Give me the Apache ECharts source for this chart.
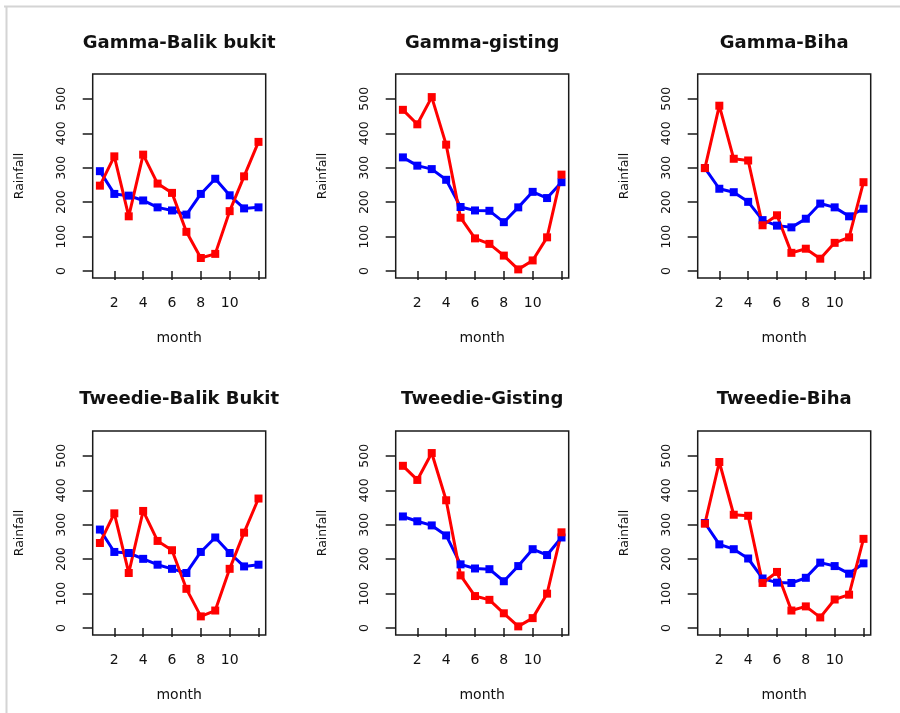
<!DOCTYPE html>
<html><head><meta charset="utf-8">
<script src="https://cdn.jsdelivr.net/npm/echarts@6/dist/echarts.min.js"></script>
<style>html,body{margin:0;padding:0;background:#fff}#c{width:900px;height:713px}</style>
</head><body><div id="c"></div>
<script>
const months = [1,2,3,4,5,6,7,8,9,10,11,12];
const panelTitles = ["Gamma-Balik bukit","Gamma-gisting","Gamma-Biha","Tweedie-Balik Bukit","Tweedie-Gisting","Tweedie-Biha"];
const xTickValues = [2,4,6,8,10,12];
const xLabelValues = [2,4,6,8,10];
const yTickValues = [0,100,200,300,400,500];
const xAxisTitle = "month";
const yAxisTitle = "Rainfall";

// blue = fitted, red = observed
const blueGammaBalik   = [290,224,219,205,185,176,164,224,268,220,182,185];
const redGammaBalik    = [248,333,159,338,254,227,114,38,50,174,275,375];
const blueGammaGisting = [330,306,296,265,186,176,175,142,185,230,212,258];
const redGammaGisting  = [468,426,505,367,155,95,79,45,5,31,98,280];
const blueGammaBiha    = [299,239,229,201,148,132,127,152,196,185,159,181];
const redGammaBiha     = [299,480,326,321,133,162,53,65,36,82,98,258];
const blueTweedieBalik   = [286,221,218,201,184,172,160,221,263,218,179,184];
const redTweedieBalik    = [247,333,160,340,253,226,114,34,51,172,277,376];
const blueTweedieGisting = [324,310,298,269,185,173,171,136,180,229,212,263];
const redTweedieGisting  = [471,430,508,371,153,93,82,43,5,29,100,278];
const blueTweedieBiha    = [305,243,229,202,144,132,131,146,190,180,158,188];
const redTweedieBiha     = [303,482,329,326,131,163,51,63,31,83,97,259];

const panelBlue = [blueGammaBalik, blueGammaGisting, blueGammaBiha, blueTweedieBalik, blueTweedieGisting, blueTweedieBiha];
const panelRed  = [redGammaBalik, redGammaGisting, redGammaBiha, redTweedieBalik, redTweedieGisting, redTweedieBiha];

const lefts = [92.7, 395.7, 697.7];
const tops = [74, 431];
const W = 173, H = 204;
const FONT = "DejaVu Sans";
const INK = '#111';

const grid = [], xAxis = [], yAxis = [], series = [], graphic = [];
for (let i = 0; i < 6; i++) {
  const L = lefts[i % 3], T = tops[Math.floor(i / 3)];
  grid.push({left: L, top: T, width: W, height: H, show: true, borderColor: '#1a1a1a', borderWidth: 1.5, backgroundColor: 'transparent', containLabel: false});
  xAxis.push({
    type: 'value', gridIndex: i, min: 0.5, max: 12.5,
    axisLine: {show: false},
    axisTick: {show: true, inside: false, length: 9, customValues: xTickValues, lineStyle: {color: '#1a1a1a', width: 1.5}},
    axisLabel: {show: true, customValues: xLabelValues, margin: 18, fontFamily: FONT, fontSize: 14, color: INK},
    splitLine: {show: false},
    name: xAxisTitle, nameLocation: 'middle', nameGap: 53, nameMoveOverlap: false,
    nameTextStyle: {fontFamily: FONT, fontSize: 14, color: INK}
  });
  yAxis.push({
    type: 'value', gridIndex: i, min: -20, max: 572,
    axisLine: {show: false},
    axisTick: {show: true, inside: false, length: 10, customValues: yTickValues, lineStyle: {color: '#1a1a1a', width: 1.5}},
    axisLabel: {show: true, customValues: yTickValues, rotate: 90, margin: 24, fontFamily: FONT, fontSize: 12.5, color: INK},
    splitLine: {show: false},
    name: yAxisTitle, nameLocation: 'middle', nameGap: 66, nameMoveOverlap: false,
    nameTextStyle: {fontFamily: FONT, fontSize: 12.5, color: INK}
  });
  series.push({
    type: 'line', xAxisIndex: i, yAxisIndex: i, name: 'fitted',
    data: months.map((m, k) => [m, panelBlue[i][k]]),
    symbol: 'rect', symbolSize: 8, showAllSymbol: true,
    lineStyle: {color: '#0000ff', width: 3}, itemStyle: {color: '#0000ff'},
    silent: true, animation: false
  });
  series.push({
    type: 'line', xAxisIndex: i, yAxisIndex: i, name: 'observed',
    data: months.map((m, k) => [m, panelRed[i][k]]),
    symbol: 'rect', symbolSize: 8, showAllSymbol: true,
    lineStyle: {color: '#ff0000', width: 3}, itemStyle: {color: '#ff0000'},
    silent: true, animation: false
  });
  graphic.push({
    type: 'text', x: L + W / 2, y: Math.floor(i / 3) === 0 ? 43 : 399,
    style: {text: panelTitles[i], fontFamily: FONT, fontWeight: 'bold', fontSize: 18, fill: INK, align: 'center', verticalAlign: 'middle'}
  });
}
graphic.push({type: 'line', shape: {x1: 4, y1: 6.5, x2: 900, y2: 6.5}, style: {stroke: '#d4d4d4', lineWidth: 2}});
graphic.push({type: 'line', shape: {x1: 6.5, y1: 6, x2: 6.5, y2: 713}, style: {stroke: '#d4d4d4', lineWidth: 2}});

const chart = echarts.init(document.getElementById('c'), null, {renderer: 'canvas'});
chart.setOption({animation: false, backgroundColor: '#fff', grid, xAxis, yAxis, series, graphic});
</script></body></html>
